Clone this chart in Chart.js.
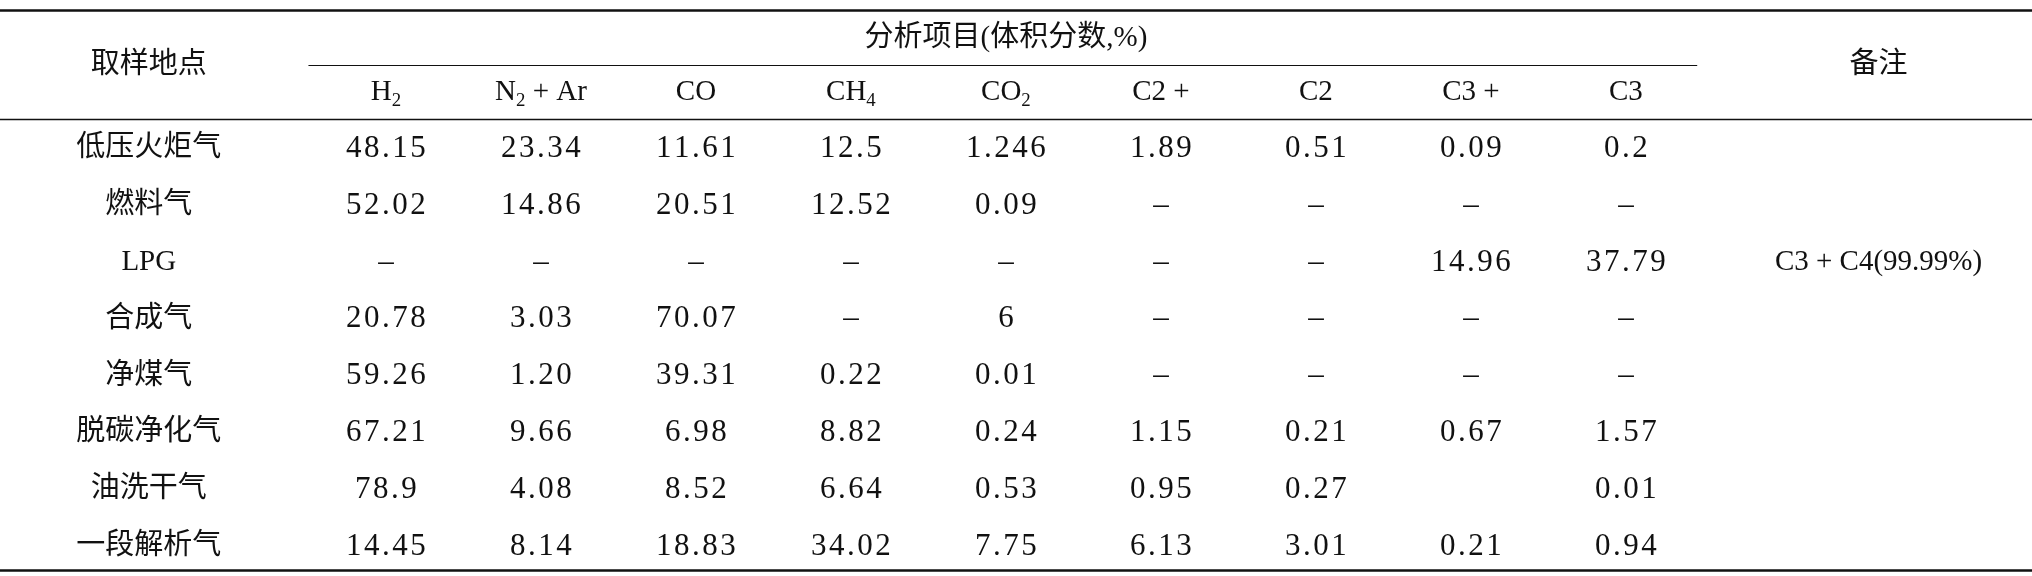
<!DOCTYPE html>
<html lang="zh">
<head>
<meta charset="UTF-8">
<title>分析项目</title>
<script src="https://cdn.jsdelivr.net/npm/chart.js"></script>
<style>
  html, body { margin: 0; padding: 0; background: #fff; }
  canvas { display: block; }
</style>
</head>
<body>
<canvas id="tbl" width="2032" height="576"></canvas>
<script>
// table data
const groupTitle = '分析项目(体积分数,%)';
const rowHeader = '取样地点';
const noteHeader = '备注';
const columns = ['H_2', 'N_2 + Ar', 'CO', 'CH_4', 'CO_2', 'C2 +', 'C2', 'C3 +', 'C3'];
const sites = ['低压火炬气', '燃料气', 'LPG', '合成气', '净煤气', '脱碳净化气', '油洗干气', '一段解析气'];
const values = [
  ['48.15', '23.34', '11.61', '12.5', '1.246', '1.89', '0.51', '0.09', '0.2'],
  ['52.02', '14.86', '20.51', '12.52', '0.09', '–', '–', '–', '–'],
  ['–', '–', '–', '–', '–', '–', '–', '14.96', '37.79'],
  ['20.78', '3.03', '70.07', '–', '6', '–', '–', '–', '–'],
  ['59.26', '1.20', '39.31', '0.22', '0.01', '–', '–', '–', '–'],
  ['67.21', '9.66', '6.98', '8.82', '0.24', '1.15', '0.21', '0.67', '1.57'],
  ['78.9', '4.08', '8.52', '6.64', '0.53', '0.95', '0.27', '', '0.01'],
  ['14.45', '8.14', '18.83', '34.02', '7.75', '6.13', '3.01', '0.21', '0.94']
];
const notes = ['', '', 'C3 + C4(99.99%)', '', '', '', '', ''];

// layout in scale units
const siteCol = -1.53, noteCol = 9.63;
const head1Row = -1.94, head2Row = -1.0;
const rules = [
  { y: -2.45, from: -2.6, to: 10.7, w: 2.5 },
  { y: -1.47, from: -0.5, to: 8.46, w: 1.2 },
  { y: -0.53, from: -2.6, to: 10.7, w: 1.5 },
  { y: 7.41, from: -2.6, to: 10.7, w: 2.5 }
];

const cells = [];
columns.forEach((c, i) => cells.push({ x: i, y: head2Row, t: c }));
cells.push({ x: 4, y: head1Row, t: groupTitle });
cells.push({ x: siteCol, y: (head1Row + head2Row) / 2, t: rowHeader });
cells.push({ x: noteCol, y: (head1Row + head2Row) / 2, t: noteHeader });
sites.forEach((s, r) => {
  cells.push({ x: siteCol, y: r, t: s });
  values[r].forEach((v, i) => { if (v) cells.push({ x: i, y: r, t: v, num: true }); });
  if (notes[r]) cells.push({ x: noteCol, y: r, t: notes[r] });
});

const FONT = '"Liberation Serif", "Noto Sans CJK SC", serif';

function drawRich(ctx, text, x, y, size, spacing) {
  // "_" marks the next char as subscript
  const parts = [];
  for (let i = 0; i < text.length; i++) {
    if (text[i] === '_' && i + 1 < text.length) { parts.push({ s: text[i + 1], sub: true }); i++; }
    else parts.push({ s: text[i], sub: false });
  }
  let total = 0;
  parts.forEach(p => {
    ctx.font = (p.sub ? size * 0.65 : size) + 'px ' + FONT;
    p.w = ctx.measureText(p.s).width + spacing;
    total += p.w;
  });
  total -= spacing;
  let cx = x - total / 2;
  parts.forEach(p => {
    ctx.font = (p.sub ? size * 0.65 : size) + 'px ' + FONT;
    ctx.fillText(p.s, cx, p.sub ? y + size * 0.3 : y);
    cx += p.w;
  });
}

const tablePlugin = {
  id: 'tablePlugin',
  afterDatasetsDraw(chart) {
    const { ctx, scales: { x, y } } = chart;
    ctx.save();
    ctx.strokeStyle = '#111';
    rules.forEach(r => {
      ctx.lineWidth = r.w;
      ctx.beginPath();
      const py = Math.round(y.getPixelForValue(r.y)) + 0.5;
      ctx.moveTo(x.getPixelForValue(r.from), py);
      ctx.lineTo(x.getPixelForValue(r.to), py);
      ctx.stroke();
    });
    ctx.fillStyle = '#111';
    ctx.textAlign = 'left';
    ctx.textBaseline = 'middle';
    chart.data.datasets[0].data.forEach(c => {
      drawRich(ctx, c.t, x.getPixelForValue(c.x), y.getPixelForValue(c.y), c.num ? 31 : 29, c.num ? 2.5 : 0);
    });
    ctx.restore();
  }
};

new Chart(document.getElementById('tbl').getContext('2d'), {
  type: 'scatter',
  data: { datasets: [{ data: cells, pointRadius: 0, pointHoverRadius: 0 }] },
  options: {
    responsive: false,
    animation: false,
    layout: { padding: 0 },
    plugins: { legend: { display: false }, tooltip: { enabled: false } },
    scales: {
      x: { type: 'linear', display: false, min: -2.49, max: 10.62 },
      y: { type: 'linear', display: false, reverse: true, min: -2.62, max: 7.52 }
    }
  },
  plugins: [tablePlugin]
});
</script>
</body>
</html>
